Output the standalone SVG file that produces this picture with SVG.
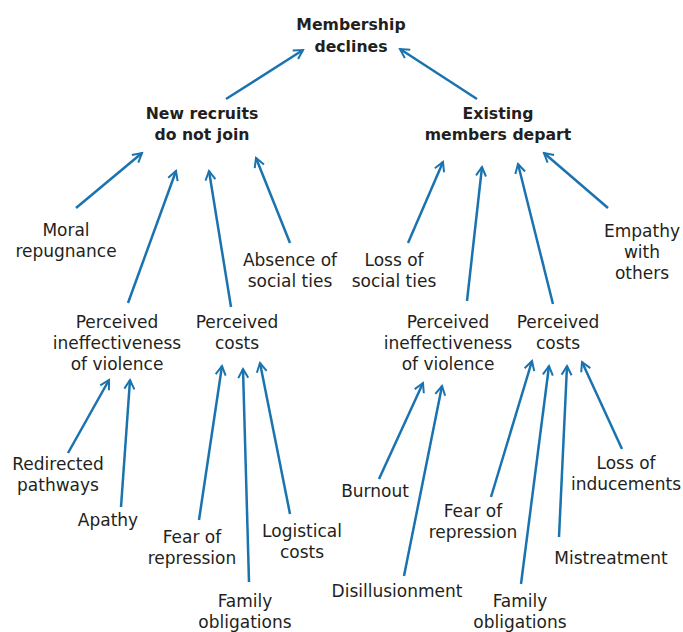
<svg xmlns="http://www.w3.org/2000/svg" width="683" height="632" viewBox="0 0 683 632">
<style>
text{font-family:"DejaVu Sans","Open Sans","Liberation Sans",sans-serif;font-size:17px;fill:#231f20;text-anchor:middle}
.b{font-weight:bold;font-size:15.7px}
.c line{stroke:#1a73ae;stroke-width:2.5;fill:none;marker-end:url(#ah)}
</style>
<defs>
<marker id="ah" markerUnits="userSpaceOnUse" markerWidth="14" markerHeight="14" viewBox="0 0 14 14" refX="11" refY="7" orient="auto">
<path d="M2,2 L11,7 L2,12" fill="none" stroke="#1a73ae" stroke-width="2"/>
</marker>
</defs>
<rect width="683" height="632" fill="#fff"/>
<g class="c" id="connectors">
<line x1="226" y1="99" x2="303" y2="50"/>
<line x1="477" y1="99" x2="400" y2="49"/>
<line x1="76" y1="208" x2="142" y2="153"/>
<line x1="128" y1="303" x2="176" y2="171"/>
<line x1="231" y1="307" x2="209" y2="171"/>
<line x1="290" y1="243" x2="256" y2="158"/>
<line x1="408" y1="243" x2="443" y2="162"/>
<line x1="467" y1="301" x2="482" y2="167"/>
<line x1="553" y1="304" x2="518" y2="164"/>
<line x1="608" y1="208" x2="544" y2="153"/>
<line x1="68" y1="453" x2="109" y2="380"/>
<line x1="121" y1="507" x2="130" y2="380"/>
<line x1="199" y1="520" x2="222" y2="366"/>
<line x1="249" y1="582" x2="243" y2="369"/>
<line x1="290" y1="514" x2="260" y2="363"/>
<line x1="379" y1="479" x2="423" y2="383"/>
<line x1="404" y1="576" x2="442" y2="386"/>
<line x1="491" y1="497" x2="532" y2="361"/>
<line x1="521" y1="584" x2="549" y2="366"/>
<line x1="559" y1="537" x2="567" y2="366"/>
<line x1="622" y1="449" x2="582" y2="362"/>
</g>
<g id="membership"><text class="b" x="351" y="30">Membership</text><text class="b" x="351" y="52">declines</text></g>
<g id="new-recruits"><text class="b" x="202" y="119">New recruits</text><text class="b" x="202" y="140">do not join</text></g>
<g id="existing"><text class="b" x="498" y="119">Existing</text><text class="b" x="498" y="140">members depart</text></g>
<g id="moral"><text x="66" y="236">Moral</text><text x="66" y="257">repugnance</text></g>
<g id="pi-left"><text x="117" y="328">Perceived</text><text x="117" y="349">ineffectiveness</text><text x="117" y="370">of violence</text></g>
<g id="pc-left"><text x="237" y="328">Perceived</text><text x="237" y="349">costs</text></g>
<g id="absence"><text x="290" y="266">Absence of</text><text x="290" y="287">social ties</text></g>
<g id="loss-ties"><text x="394" y="266">Loss of</text><text x="394" y="287">social ties</text></g>
<g id="pi-right"><text x="448" y="328">Perceived</text><text x="448" y="349">ineffectiveness</text><text x="448" y="370">of violence</text></g>
<g id="pc-right"><text x="558" y="328">Perceived</text><text x="558" y="349">costs</text></g>
<g id="empathy"><text x="642" y="237">Empathy</text><text x="642" y="258">with</text><text x="642" y="279">others</text></g>
<g id="redirected"><text x="58" y="470">Redirected</text><text x="58" y="491">pathways</text></g>
<g id="apathy"><text x="108" y="526">Apathy</text></g>
<g id="fear-left"><text x="192" y="543">Fear of</text><text x="192" y="564">repression</text></g>
<g id="family-left"><text x="245" y="607">Family</text><text x="245" y="628">obligations</text></g>
<g id="logistical"><text x="302" y="537">Logistical</text><text x="302" y="558">costs</text></g>
<g id="burnout"><text x="375" y="497">Burnout</text></g>
<g id="disillusionment"><text x="397" y="597">Disillusionment</text></g>
<g id="fear-right"><text x="473" y="517">Fear of</text><text x="473" y="538">repression</text></g>
<g id="family-right"><text x="520" y="607">Family</text><text x="520" y="628">obligations</text></g>
<g id="mistreatment"><text x="611" y="564">Mistreatment</text></g>
<g id="inducements"><text x="626" y="469">Loss of</text><text x="626" y="490">inducements</text></g>
</svg>
